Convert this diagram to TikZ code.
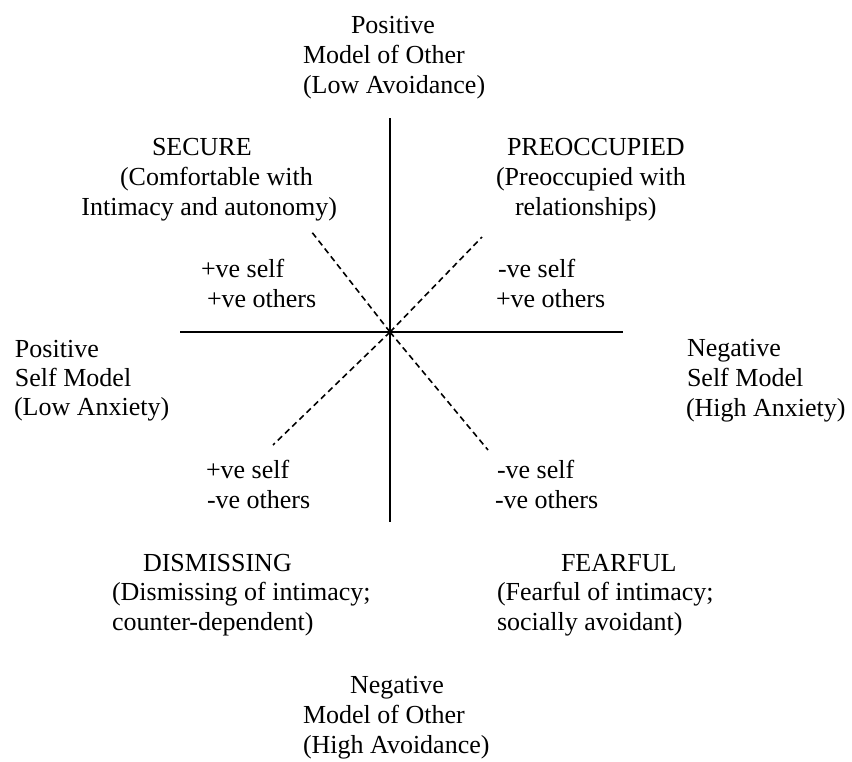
\documentclass[tikz,border=0pt]{standalone}
\usepackage{fontspec}
\setmainfont{Liberation Serif}
\begin{document}
\begin{tikzpicture}[x=1pt,y=-1pt,
  txt/.style={inner sep=0pt,outer sep=0pt,anchor=base west,font=\fontsize{26}{30}\selectfont},
  txte/.style={txt,anchor=base east},
  axis/.style={line width=1.8pt,black},
  diag/.style={line width=1.6pt,black,dash pattern=on 6pt off 4pt}]
\useasboundingbox (0,0) rectangle (852,761);
% axes
\coordinate (O) at (390,332);
\coordinate (axT) at (390,118);
\coordinate (axB) at (390,522);
\coordinate (axL) at (180,332);
\coordinate (axR) at (623,332);
\coordinate (dUL) at (311,231);
\coordinate (dUR) at (482,237);
\coordinate (dLL) at (273,445);
\coordinate (dLR) at (488,450);
\draw[axis] (axT) -- (axB);
\draw[axis] (axL) -- (axR);
\draw[diag] (O) -- (dUL);
\draw[diag] (O) -- (dUR);
\draw[diag] (O) -- (dLL);
\draw[diag] (O) -- (dLR);
% top
\node[txt] (t1) at (351,33) {Positive};
\node[txt] (t2) at (303,63) {Model of Other};
\node[txt] (t3) at (303,93) {(Low Avoidance)};
% secure
\node[txt] (s1) at (152,155) {SECURE};
\node[txt] (s2) at (120,185) {(Comfortable with};
\node[txte] (s3) at (337,215) {Intimacy and autonomy)};
% preoccupied
\node[txt] (p1) at (507,155) {PREOCCUPIED};
\node[txt] (p2) at (496,185) {(Preoccupied with};
\node[txt] (p3) at (515,215) {relationships)};
% quadrant labels
\node[txt] (q1a) at (201,277) {+ve self};
\node[txt] (q1b) at (207,307) {+ve others};
\node[txt] (q2a) at (498,277) {-ve self};
\node[txt] (q2b) at (496,307) {+ve others};
\node[txt] (q3a) at (206,478) {+ve self};
\node[txt] (q3b) at (207,508) {-ve others};
\node[txt] (q4a) at (497,478) {-ve self};
\node[txt] (q4b) at (495,508) {-ve others};
% left
\node[txt] (l1) at (15,357) {Positive};
\node[txt] (l2) at (15,386) {Self Model};
\node[txt] (l3) at (14,415) {(Low Anxiety)};
% right
\node[txt] (r1) at (687,356) {Negative};
\node[txt] (r2) at (687,386) {Self Model};
\node[txt] (r3) at (686,416) {(High Anxiety)};
% dismissing
\node[txt] (d1) at (143,571) {DISMISSING};
\node[txt] (d2) at (112,600) {(Dismissing of intimacy;};
\node[txt] (d3) at (112,630) {counter-dependent)};
% fearful
\node[txt] (f1) at (561,571) {FEARFUL};
\node[txt] (f2) at (497,600) {(Fearful of intimacy;};
\node[txt] (f3) at (497,630) {socially avoidant)};
% bottom
\node[txt] (b1) at (350,693) {Negative};
\node[txt] (b2) at (303,723) {Model of Other};
\node[txt] (b3) at (303,753) {(High Avoidance)};
\end{tikzpicture}
\end{document}
